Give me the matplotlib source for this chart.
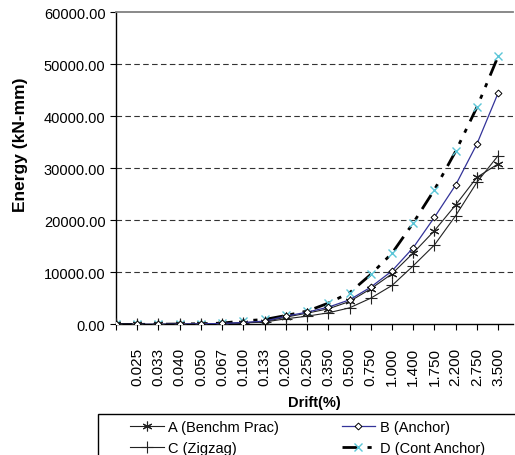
import matplotlib
matplotlib.use("Agg")
import matplotlib.pyplot as plt
from matplotlib.patches import Rectangle
import numpy as np

plt.rcParams['font.family'] = ['Liberation Sans', 'DejaVu Sans']

# ── Data ─────────────────────────────────────────────
drift_labels = ['0.025', '0.033', '0.040', '0.050', '0.067', '0.100', '0.133',
                '0.200', '0.250', '0.350', '0.500', '0.750', '1.000', '1.400',
                '1.750', '2.200', '2.750', '3.500']

energy_a = [0, 20, 40, 70, 110, 180, 330, 560, 1410, 2180, 3010, 4420, 6860,
            9740, 13750, 18040, 22980, 28300, 30870]
energy_b = [0, 20, 40, 70, 120, 200, 380, 650, 1600, 2370, 3330, 4740, 7180,
            10300, 14770, 20610, 26830, 34710, 44520]
energy_c = [0, 15, 30, 55, 90, 150, 280, 480, 1090, 1600, 2240, 3200, 5060,
            7500, 11280, 15290, 20930, 27350, 32460]
energy_d = [0, 25, 50, 90, 150, 260, 700, 960, 1730, 2560, 4100, 6090, 9620,
            13690, 19520, 25920, 33310, 41770, 51580]

series_names = ['A (Benchm Prac)', 'B (Anchor)', 'C (Zigzag)', 'D (Cont Anchor)']

x = np.arange(len(energy_a))

# ── Figure ───────────────────────────────────────────
fig = plt.figure(figsize=(5.15, 4.56), dpi=100)
ax = fig.add_axes([0.2252, 0.2862, 0.771, 0.6846])

star = (6, 2, 0)
la, = ax.plot(x, energy_a, color='#222222', lw=0.8, marker=star, ms=7,
              mec='#222222', mew=0.8, label=series_names[0], zorder=3)
lb, = ax.plot(x, energy_b, color='#333399', lw=0.9, marker='D', ms=3.5,
              mfc='white', mec='black', mew=0.7, label=series_names[1], zorder=4)
lc, = ax.plot(x, energy_c, color='#222222', lw=0.8, marker='+', ms=8,
              mew=0.8, label=series_names[2], zorder=3)
ld, = ax.plot(x, energy_d, color='black', lw=2.0, dashes=(6, 3, 1.5, 3, 1.5, 3),
              marker='x', ms=6, mec='#5cc6d8', mew=1.0,
              label=series_names[3], zorder=2)

ax.set_xlim(0, 18.7)
ax.set_ylim(0, 60000)
ax.set_yticks(np.arange(0, 60001, 10000))
ax.set_yticklabels([f'{v:.2f}' for v in np.arange(0, 60001, 10000)], fontsize=10.5)
ax.set_xticks(x)
ax.set_xticklabels([''] + drift_labels, rotation=90, fontsize=11)
ax.tick_params(axis='both', direction='out', length=4, width=0.8, colors='black')
ax.tick_params(axis='x', pad=12)

ax.grid(axis='y', color='#333333', lw=0.8, dashes=(5, 3))
gl = ax.get_ygridlines()
gl[0].set_visible(False)
gl[-1].set_visible(False)
ax.set_axisbelow(True)

ax.spines['right'].set_visible(False)
ax.spines['top'].set_color('#808080')
ax.spines['top'].set_linewidth(1.3)
ax.spines['left'].set_linewidth(1.0)
ax.spines['bottom'].set_linewidth(1.0)

ax.set_ylabel('Energy (kN-mm)', fontsize=12.5, fontweight='bold')
ax.yaxis.set_label_coords(-0.222, 0.58)
ax.set_xlabel('Drift(%)', fontsize=10.5, fontweight='bold', labelpad=7)

# legend below the chart, box running off the edge
fig.add_artist(Rectangle((98 / 515, -0.2), 1.0, 0.2 + (1 - 415 / 456),
                         transform=fig.transFigure, fill=False,
                         edgecolor='black', lw=1.0))
fig.legend(handles=[la, lc, lb, ld], loc='upper left',
           bbox_to_anchor=(117 / 515, 1 - 408 / 456), ncol=2, frameon=False,
           fontsize=10.5, handlelength=2.3, handletextpad=0.3,
           columnspacing=4.3, labelspacing=0.45, borderpad=0.4)

fig.savefig('out.png', dpi=100)
